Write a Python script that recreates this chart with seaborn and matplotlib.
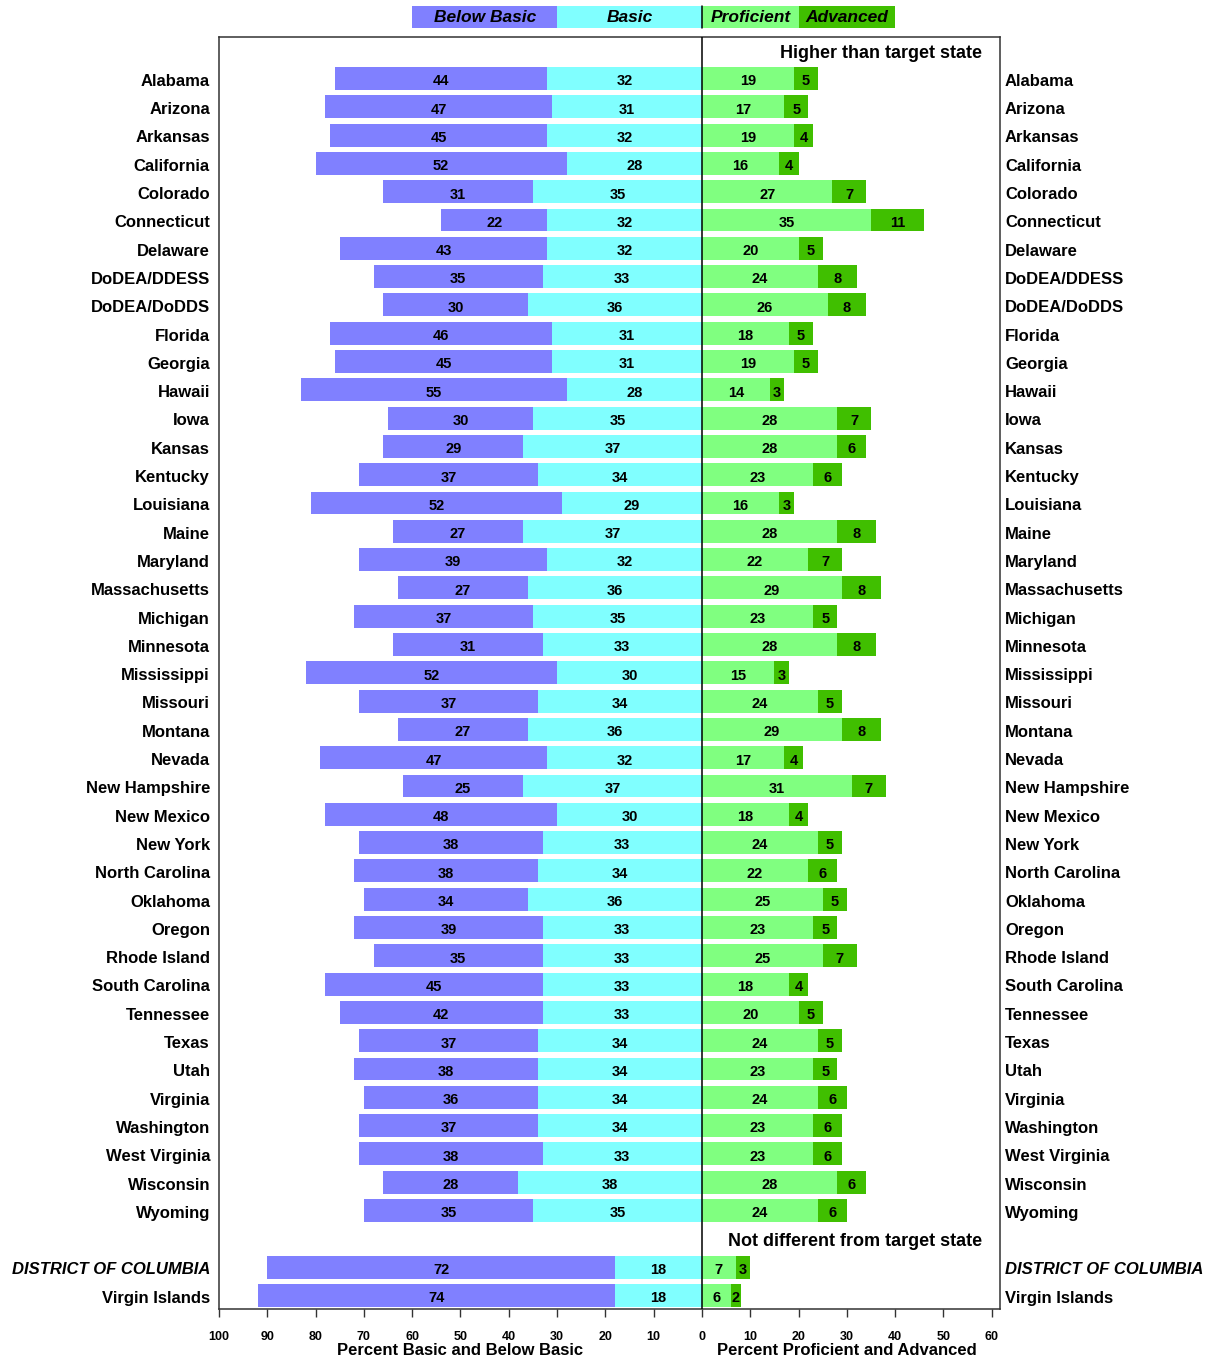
import matplotlib
matplotlib.use("Agg")
import matplotlib.pyplot as plt
import matplotlib.transforms as mtransforms
from matplotlib.lines import Line2D
from matplotlib.patches import Rectangle
import numpy as np
import pandas as pd
import seaborn as sns

# ---- data -------------------------------------------------------------
jurisdictions = [
    "Alabama", "Arizona", "Arkansas", "California", "Colorado", "Connecticut",
    "Delaware", "DoDEA/DDESS", "DoDEA/DoDDS", "Florida", "Georgia", "Hawaii",
    "Iowa", "Kansas", "Kentucky", "Louisiana", "Maine", "Maryland",
    "Massachusetts", "Michigan", "Minnesota", "Mississippi", "Missouri",
    "Montana", "Nevada", "New Hampshire", "New Mexico", "New York",
    "North Carolina", "Oklahoma", "Oregon", "Rhode Island", "South Carolina",
    "Tennessee", "Texas", "Utah", "Virginia", "Washington", "West Virginia",
    "Wisconsin", "Wyoming", "DISTRICT OF COLUMBIA", "Virgin Islands",
]
below_basic = [44, 47, 45, 52, 31, 22, 43, 35, 30, 46, 45, 55, 30, 29, 37, 52,
               27, 39, 27, 37, 31, 52, 37, 27, 47, 25, 48, 38, 38, 34, 39, 35,
               45, 42, 37, 38, 36, 37, 38, 28, 35, 72, 74]
basic = [32, 31, 32, 28, 35, 32, 32, 33, 36, 31, 31, 28, 35, 37, 34, 29,
         37, 32, 36, 35, 33, 30, 34, 36, 32, 37, 30, 33, 34, 36, 33, 33,
         33, 33, 34, 34, 34, 34, 33, 38, 35, 18, 18]
proficient = [19, 17, 19, 16, 27, 35, 20, 24, 26, 18, 19, 14, 28, 28, 23, 16,
              28, 22, 29, 23, 28, 15, 24, 29, 17, 31, 18, 24, 22, 25, 23, 25,
              18, 20, 24, 23, 24, 23, 23, 28, 24, 7, 6]
advanced = [5, 5, 4, 4, 7, 11, 5, 8, 8, 5, 5, 3, 7, 6, 6, 3,
            8, 7, 8, 5, 8, 3, 5, 8, 4, 7, 4, 5, 6, 5, 5, 7,
            4, 5, 5, 5, 6, 6, 6, 6, 6, 3, 2]
group_headers = ["Higher than target state", "Not different from target state"]
level_names = ["Below Basic", "Basic", "Proficient", "Advanced"]
axis_titles = ["Percent Basic and Below Basic", "Percent Proficient and Advanced"]

# ---- layout -----------------------------------------------------------
n_higher = 41
row_pos = list(range(n_higher)) + [n_higher + 1 + i for i in range(len(jurisdictions) - n_higher)]

df = pd.DataFrame({
    "jurisdiction": jurisdictions,
    "pos": row_pos,
    "below_basic": below_basic,
    "basic": basic,
    "proficient": proficient,
    "advanced": advanced,
})
df["left_total"] = -(df["below_basic"] + df["basic"])
df["left_basic"] = -df["basic"]
df["right_total"] = df["proficient"] + df["advanced"]

colors = {
    "Below Basic": "#8080FF",
    "Basic": "#80FFFF",
    "Proficient": "#80FF80",
    "Advanced": "#40BF00",
}

sns.set_style("white")
plt.rcParams["font.family"] = ["Liberation Sans", "DejaVu Sans"]
plt.rcParams["text.color"] = "black"
plt.rcParams["xtick.color"] = "black"
plt.rcParams["axes.labelcolor"] = "black"
narrow = ["Liberation Sans Narrow", "Liberation Sans", "DejaVu Sans"]

fig = plt.figure(figsize=(12.06, 13.61), dpi=100)
ax = fig.add_axes([219 / 1206, 1 - 1309 / 1361, (1000 - 219) / 1206, (1309 - 37) / 1361])

bar_kw = dict(orient="y", native_scale=True, errorbar=None, saturation=1,
              width=0.81, linewidth=0, ax=ax)
sns.barplot(data=df, x="left_total", y="pos", color=colors["Below Basic"], **bar_kw)
sns.barplot(data=df, x="left_basic", y="pos", color=colors["Basic"], **bar_kw)
sns.barplot(data=df, x="right_total", y="pos", color=colors["Advanced"], **bar_kw)
sns.barplot(data=df, x="proficient", y="pos", color=colors["Proficient"], **bar_kw)

ax.set_xlim(-100, 61.7)
ax.set_ylim(43.48, -1.466)

# segment value labels
lab_kw = dict(ha="center", va="center", fontsize=10.5, fontweight="bold", color="black")
for _, r in df.iterrows():
    y = r["pos"] + 0.1
    ax.text(-(r["basic"] + r["below_basic"] / 2), y, f"{r['below_basic']}", **lab_kw)
    ax.text(-r["basic"] / 2, y, f"{r['basic']}", **lab_kw)
    ax.text(r["proficient"] / 2, y, f"{r['proficient']}", **lab_kw)
    ax.text(r["proficient"] + r["advanced"] / 2, y, f"{r['advanced']}", **lab_kw)

# jurisdiction names on both sides
for _, r in df.iterrows():
    is_dc = r["jurisdiction"] == "DISTRICT OF COLUMBIA"
    style = "italic" if is_dc else "normal"
    for xa, dx, ha in [(0, -9, "right"), (1, 5, "left")]:
        ax.annotate(r["jurisdiction"], xy=(xa, r["pos"] + 0.1),
                    xycoords=("axes fraction", "data"),
                    xytext=(dx, 0), textcoords="offset pixels",
                    ha=ha, va="center", fontsize=12, fontweight="bold",
                    fontstyle=style, color="black", annotation_clip=False)

# group headers
ax.text(58, -0.87, group_headers[0], ha="right", va="center",
        fontsize=13, fontweight="bold", color="black")
ax.text(58, 41.08, group_headers[1], ha="right", va="center",
        fontsize=13, fontweight="bold", color="black")

# zero line
ax.axvline(0, color="black", linewidth=1.1, zorder=5)

# x axis
ticks = list(range(-100, 61, 10))
ax.set_xticks(ticks)
ax.set_xticklabels([str(abs(t)) for t in ticks], fontsize=9, fontweight="bold",
                   family=narrow, color="black")
ax.tick_params(axis="x", direction="out", length=6, width=1, color="#333333",
               pad=10, bottom=True)
ax.set_yticks([])
ax.set_xlabel("")
ax.set_ylabel("")
for s in ax.spines.values():
    s.set_color("#333333")
    s.set_linewidth(1.1)

xt = mtransforms.blended_transform_factory(ax.transData, ax.transAxes)
ax.text(-50, -0.033, axis_titles[0], transform=xt, ha="center", va="center",
        fontsize=12, fontweight="bold", family=narrow, color="black")
ax.text(30, -0.033, axis_titles[1], transform=xt, ha="center", va="center",
        fontsize=12, fontweight="bold", family=narrow, color="black")

# colour key above the plot
key_y = -2.17
key_h = 0.78
key_spans = [(-60, 30), (-30, 30), (0, 20), (20, 20)]
for name, (x0, w) in zip(level_names, key_spans):
    ax.add_patch(Rectangle((x0, key_y - key_h / 2), w, key_h,
                           facecolor=colors[name], edgecolor="none",
                           clip_on=False))
    ax.text(x0 + w / 2, key_y + 0.03, name, ha="center", va="center",
            fontsize=12.5, fontweight="bold", fontstyle="italic",
            color="black", clip_on=False)
ax.add_line(Line2D([0, 0], [key_y - key_h / 2, key_y + key_h / 2],
                   color="black", linewidth=1.1, clip_on=False))

fig.savefig("out.png", dpi=100)
